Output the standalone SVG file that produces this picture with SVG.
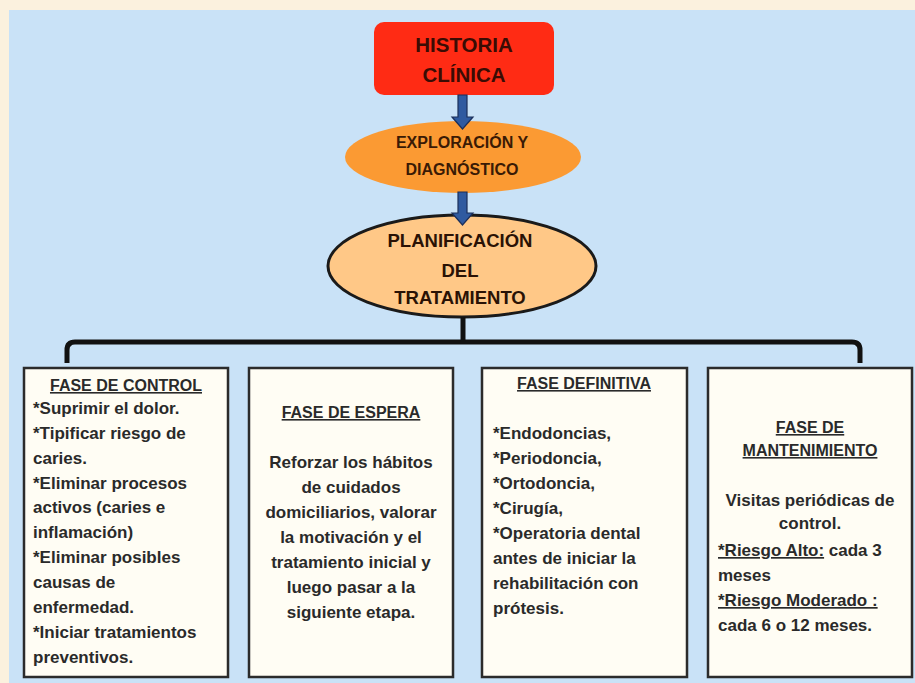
<svg xmlns="http://www.w3.org/2000/svg" width="915" height="683" viewBox="0 0 915 683">
<defs>
<style>
.t{font-family:"Liberation Sans",Arial,sans-serif;font-weight:bold;fill:#2a2a2a;font-size:17px}
.h{font-family:"Liberation Sans",Arial,sans-serif;font-weight:bold;fill:#2a2a2a;font-size:16px;text-decoration:underline}
.c{text-anchor:middle}
.box{fill:#FFFDF4;stroke:#2b2b2b;stroke-width:2.5}
.arr{fill:#2F5AA0;stroke:#1B2F5A;stroke-width:1.2}
.con{fill:none;stroke:#111;stroke-width:5;stroke-linejoin:round}
.ti{font-family:"Liberation Sans",Arial,sans-serif;font-weight:bold;text-anchor:middle}
</style>
</defs>
<rect x="0" y="0" width="915" height="683" fill="#FBF1DE"/>
<rect x="9" y="10" width="906" height="673" fill="#C9E2F7"/>

<g id="historia">
<rect x="374" y="22" width="180" height="73" rx="10" fill="#FF2B14"/>
<text class="ti" x="464" y="52" font-size="20.5" fill="#3a0c04">HISTORIA</text>
<text class="ti" x="464" y="82" font-size="20.5" fill="#3a0c04">CLÍNICA</text>
</g>

<g id="exploracion">
<ellipse cx="463" cy="157" rx="118" ry="36" fill="#FB9A33"/>
<text class="ti" x="462" y="148" font-size="16" fill="#3a1a05">EXPLORACIÓN Y</text>
<text class="ti" x="462" y="175" font-size="16" fill="#3a1a05">DIAGNÓSTICO</text>
</g>

<g id="planificacion">
<ellipse cx="462" cy="266" rx="134" ry="51" fill="#FFC887" stroke="#1a1a1a" stroke-width="3"/>
<text class="ti" x="460" y="247" font-size="18.5" fill="#2a1205">PLANIFICACIÓN</text>
<text class="ti" x="460" y="277" font-size="18.5" fill="#2a1205">DEL</text>
<text class="ti" x="460" y="304" font-size="18.5" fill="#2a1205">TRATAMIENTO</text>
</g>

<g id="fase-control">
<rect class="box" x="24" y="368" width="204" height="309"/>
<text class="h c" x="126" y="391">FASE DE CONTROL</text>
<text class="t" x="33" y="414">*Suprimir el dolor.</text>
<text class="t" x="33" y="439">*Tipificar riesgo de</text>
<text class="t" x="33" y="464">caries.</text>
<text class="t" x="33" y="489">*Eliminar procesos</text>
<text class="t" x="33" y="513">activos (caries e</text>
<text class="t" x="33" y="538">inflamación)</text>
<text class="t" x="33" y="563">*Eliminar posibles</text>
<text class="t" x="33" y="588">causas de</text>
<text class="t" x="33" y="613">enfermedad.</text>
<text class="t" x="33" y="638">*Iniciar tratamientos</text>
<text class="t" x="33" y="663">preventivos.</text>
</g>

<g id="fase-espera">
<rect class="box" x="249" y="368" width="204" height="309"/>
<text class="h c" x="351" y="418">FASE DE ESPERA</text>
<text class="t c" x="351" y="468">Reforzar los hábitos</text>
<text class="t c" x="351" y="493">de cuidados</text>
<text class="t c" x="351" y="518">domiciliarios, valorar</text>
<text class="t c" x="351" y="543">la motivación y el</text>
<text class="t c" x="351" y="568">tratamiento inicial y</text>
<text class="t c" x="351" y="593">luego pasar a la</text>
<text class="t c" x="351" y="618">siguiente etapa.</text>
</g>

<g id="fase-definitiva">
<rect class="box" x="482" y="368" width="205" height="309"/>
<text class="h c" x="584" y="389">FASE DEFINITIVA</text>
<text class="t" x="493" y="439">*Endodoncias,</text>
<text class="t" x="493" y="464">*Periodoncia,</text>
<text class="t" x="493" y="489">*Ortodoncia,</text>
<text class="t" x="493" y="514">*Cirugía,</text>
<text class="t" x="493" y="539">*Operatoria dental</text>
<text class="t" x="493" y="564">antes de iniciar la</text>
<text class="t" x="493" y="589">rehabilitación con</text>
<text class="t" x="493" y="614">prótesis.</text>
</g>

<g id="fase-mantenimiento">
<rect class="box" x="708" y="368" width="204" height="309"/>
<text class="h c" x="810" y="433">FASE DE</text>
<text class="h c" x="810" y="456">MANTENIMIENTO</text>
<text class="t c" x="810" y="506">Visitas periódicas de</text>
<text class="t c" x="810" y="529">control.</text>
<text class="t" x="718" y="556"><tspan text-decoration="underline">*Riesgo Alto:</tspan> cada 3</text>
<text class="t" x="718" y="581">meses</text>
<text class="t" x="718" y="606"><tspan text-decoration="underline">*Riesgo Moderado  :</tspan></text>
<text class="t" x="718" y="631">cada 6 o 12 meses.</text>
</g>

<g id="connectors">
<path class="con" d="M67,363 L67,350 Q67,342 75,342 L852,342 Q860,342 860,350 L860,363"/>
<path class="con" d="M463,317 L463,342"/>
<path class="arr" d="M458,95 L467,95 L467,117 L473,117 L462.5,129 L452,117 L458,117 Z"/>
<path class="arr" d="M458,192 L467,192 L467,213 L473,213 L462.5,225 L452,213 L458,213 Z"/>
</g>
</svg>
